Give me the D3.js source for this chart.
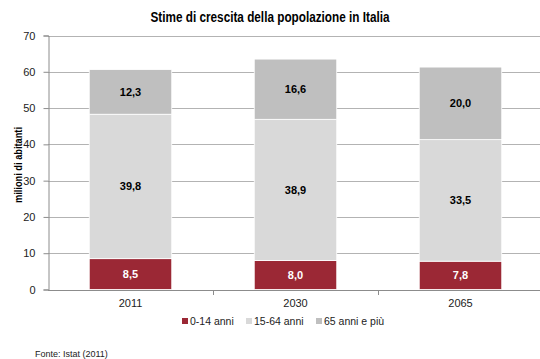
<!DOCTYPE html>
<html><head><meta charset="utf-8">
<script src="https://cdn.jsdelivr.net/npm/d3@7"></script>
<style>
body{margin:0;background:#fff;}
svg{display:block;}
</style></head>
<body>
<svg id="c" width="540" height="359"></svg>
<script>
const years = ["2011", "2030", "2065"];
const seriesNames = ["0-14 anni", "15-64 anni", "65 anni e più"];
const young = [8.5, 8.0, 7.8];
const working = [39.8, 38.9, 33.5];
const elderly = [12.3, 16.6, 20.0];
const yTicks = [0, 10, 20, 30, 40, 50, 60, 70];
const colors = ["#9B2835", "#D9D9D9", "#BFBFBF"];
const labelColors = ["#ffffff", "#000000", "#000000"];

const svg = d3.select("#c");
const fontReg = "'Liberation Sans',Arial,sans-serif";

const x = d3.scaleBand().domain(years).range([48, 543]).paddingInner(0.5).paddingOuter(0.25);
const y = d3.scaleLinear().domain([0, 70]).range([289.5, 35.5]);

const rows = years.map((yr, i) => ({year: yr, s0: young[i], s1: working[i], s2: elderly[i]}));
const stack = d3.stack().keys(["s0", "s1", "s2"])(rows);

// gridlines
svg.append("g").selectAll("line").data(yTicks.filter(t => t > 0)).join("line")
  .attr("x1", 48).attr("x2", 543)
  .attr("y1", d => Math.round(y(d)) + 0.5).attr("y2", d => Math.round(y(d)) + 0.5)
  .attr("stroke", "#B3B3B3").attr("stroke-width", 1);

// bars
stack.forEach((layer, li) => {
  const g = svg.append("g");
  g.selectAll("rect").data(layer).join("rect")
    .attr("x", d => x(d.data.year))
    .attr("width", x.bandwidth())
    .attr("y", d => y(d[1]))
    .attr("height", d => y(d[0]) - y(d[1]))
    .attr("fill", colors[li])
    .attr("stroke", "#ffffff").attr("stroke-width", 0.8);
  g.selectAll("text").data(layer).join("text")
    .attr("x", d => x(d.data.year) + x.bandwidth() / 2)
    .attr("y", d => (y(d[0]) + y(d[1])) / 2 + 4)
    .attr("text-anchor", "middle")
    .attr("font-family", fontReg).attr("font-weight", "bold").attr("font-size", 11)
    .attr("fill", labelColors[li])
    .text(d => d3.format(".1f")(d[1] - d[0]).replace(".", ","));
});

// y axis
const yAxis = d3.axisLeft(y).tickValues(yTicks).tickSize(5).tickPadding(8);
const gy = svg.append("g").attr("transform", "translate(48.5,0)").call(yAxis);
gy.select(".domain").attr("stroke", "#8C8C8C");
gy.selectAll(".tick line").attr("stroke", "#8C8C8C");
gy.selectAll(".tick text").attr("font-family", fontReg).attr("font-size", 11).attr("fill", "#222");

// x axis
const xAxis = d3.axisBottom(x).tickSize(0).tickPadding(9);
const gx = svg.append("g").attr("transform", "translate(0,290)").call(xAxis);
gx.select(".domain").attr("stroke", "#8C8C8C").attr("d", "M48,0.5H543");
gx.selectAll(".tick text").attr("font-family", fontReg).attr("font-size", 11).attr("fill", "#222");
const seps = years.slice(1).map(yr => x(yr) - x.step() * x.paddingInner() / 2);
gx.selectAll(".sep").data(seps).join("line").attr("class", "sep")
  .attr("x1", d => Math.round(d) + 0.5).attr("x2", d => Math.round(d) + 0.5)
  .attr("y1", 0).attr("y2", 5).attr("stroke", "#8C8C8C");

// title
svg.append("text").attr("x", 270).attr("y", 22).attr("text-anchor", "middle")
  .attr("font-family", fontReg).attr("font-weight", "bold").attr("font-size", 14)
  .attr("textLength", 239).attr("lengthAdjust", "spacingAndGlyphs")
  .attr("fill", "#000").text("Stime di crescita della popolazione in Italia");

// y label
svg.append("text").attr("transform", "translate(22,165) rotate(-90)").attr("text-anchor", "middle")
  .attr("font-family", fontReg).attr("font-weight", "bold").attr("font-size", 10.5)
  .attr("textLength", 76).attr("lengthAdjust", "spacingAndGlyphs")
  .attr("fill", "#000").text("milioni di abitanti");

// legend
const legX = [182, 246, 316];
const leg = svg.append("g");
seriesNames.forEach((n, i) => {
  leg.append("rect").attr("x", legX[i]).attr("y", 318).attr("width", 6).attr("height", 6).attr("fill", colors[i]);
  leg.append("text").attr("x", legX[i] + 8).attr("y", 325)
    .attr("font-family", fontReg).attr("font-size", 10.5).attr("fill", "#222").text(n);
});

// source
svg.append("text").attr("x", 35).attr("y", 357).attr("font-family", fontReg).attr("font-size", 9)
  .attr("fill", "#222").text("Fonte: Istat (2011)");
</script>
</body></html>
